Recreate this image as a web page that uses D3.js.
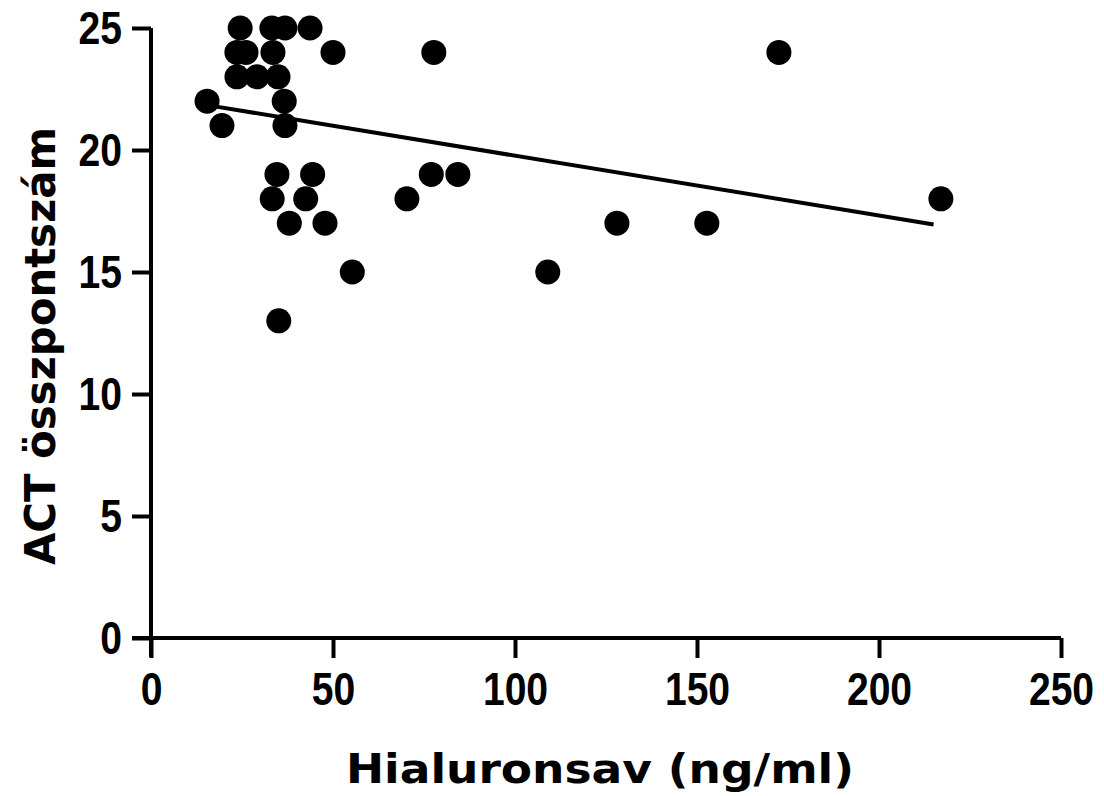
<!DOCTYPE html>
<html>
<head>
<meta charset="utf-8">
<script src="https://cdn.jsdelivr.net/npm/d3@7"></script>
<style>
  html, body { margin: 0; padding: 0; background: #fff; }
  svg { display: block; }
</style>
</head>
<body>
<svg id="chart" width="1104" height="796"></svg>
<script>
// Data
const hyaluronic = [24.5, 33.2, 36.8, 43.7,
                    23.6, 26.1, 33.5, 50.0, 77.7, 172.5,
                    23.6, 29.1, 34.9,
                    15.4, 36.6,
                    19.5, 36.8,
                    34.6, 44.4, 77.0, 84.3,
                    33.3, 42.5, 70.3, 217.0,
                    38.0, 47.8, 128.0, 152.7,
                    55.3, 109.0,
                    35.1];
const actScore =   [25, 25, 25, 25,
                    24, 24, 24, 24, 24, 24,
                    23, 23, 23,
                    22, 22,
                    21, 21,
                    19, 19, 19, 19,
                    18, 18, 18, 18,
                    17, 17, 17, 17,
                    15, 15,
                    13];
const fitX = [15, 215];
const fitY = [21.85, 16.95];
const xTicks = [0, 50, 100, 150, 200, 250];
const yTicks = [0, 5, 10, 15, 20, 25];
const xTitle = "Hialuronsav (ng/ml)";
const yTitle = "ACT összpontszám";

const svg = d3.select("#chart");
const x = d3.scaleLinear().domain([0, 250]).range([151, 1061]);
const y = d3.scaleLinear().domain([0, 25]).range([638, 28]);

const tickFont = "'Liberation Sans', Arial, sans-serif";
const titleFont = "'DejaVu Sans', Verdana, sans-serif";
const squeeze = 0.85;

// Y axis
const yAxis = svg.append("g")
  .attr("transform", `translate(${x(0)},0)`)
  .call(d3.axisLeft(y).tickValues(yTicks).tickSize(19).tickSizeOuter(0));
yAxis.select(".domain").remove();
yAxis.append("line")
  .attr("x1", 0).attr("x2", 0)
  .attr("y1", y(25)).attr("y2", y(0) + 19)
  .attr("stroke", "#000").attr("stroke-width", 4);
yAxis.selectAll(".tick line").attr("stroke", "#000").attr("stroke-width", 4);
yAxis.selectAll(".tick text")
  .attr("fill", "#000")
  .attr("x", -29 / squeeze)
  .attr("transform", `scale(${squeeze},1)`)
  .style("font-family", tickFont)
  .style("font-weight", "bold")
  .style("font-size", "46px")
  .attr("dy", "0.34em");

// X axis
const xAxis = svg.append("g")
  .attr("transform", `translate(0,${y(0)})`)
  .call(d3.axisBottom(x).tickValues(xTicks).tickSize(20).tickSizeOuter(0));
xAxis.select(".domain").remove();
xAxis.append("line")
  .attr("x1", x(0) - 19).attr("x2", x(250))
  .attr("y1", 0).attr("y2", 0)
  .attr("stroke", "#000").attr("stroke-width", 4);
xAxis.selectAll(".tick line").attr("stroke", "#000").attr("stroke-width", 4);
xAxis.selectAll(".tick text")
  .attr("fill", "#000")
  .attr("y", 67)
  .attr("dy", 0)
  .attr("transform", `scale(${squeeze},1)`)
  .style("font-family", tickFont)
  .style("font-weight", "bold")
  .style("font-size", "46px");

// Regression line
const line = d3.line().x(d => x(d[0])).y(d => y(d[1]));
svg.append("path")
  .datum(fitX.map((v, i) => [v, fitY[i]]))
  .attr("d", line)
  .attr("fill", "none")
  .attr("stroke", "#000")
  .attr("stroke-width", 4);

// Points
svg.append("g").selectAll("circle")
  .data(hyaluronic.map((v, i) => [v, actScore[i]]))
  .join("circle")
  .attr("cx", d => x(d[0]))
  .attr("cy", d => y(d[1]))
  .attr("r", 12.5)
  .attr("fill", "#000");

// Titles
svg.append("text")
  .attr("x", 600).attr("y", 783)
  .attr("text-anchor", "middle")
  .attr("textLength", 508)
  .attr("lengthAdjust", "spacingAndGlyphs")
  .style("font-family", titleFont)
  .style("font-weight", "bold")
  .style("font-size", "40px")
  .text(xTitle);

svg.append("text")
  .attr("transform", `translate(55,346) rotate(-90)`)
  .attr("text-anchor", "middle")
  .attr("textLength", 438)
  .attr("lengthAdjust", "spacingAndGlyphs")
  .style("font-family", titleFont)
  .style("font-weight", "bold")
  .style("font-size", "42px")
  .text(yTitle);
</script>
</body>
</html>
